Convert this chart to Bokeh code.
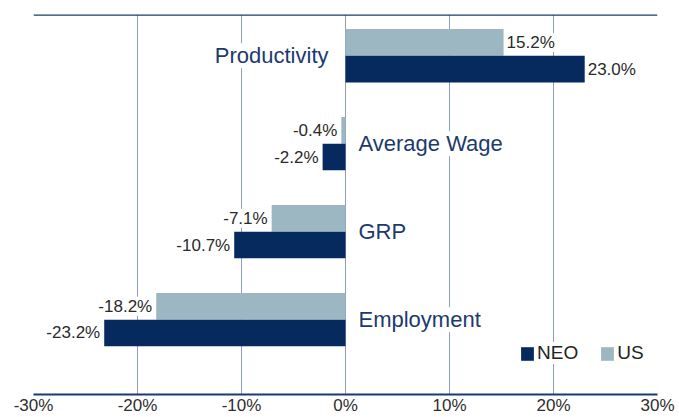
from bokeh.plotting import figure
from bokeh.models import Range1d, FixedTicker, ColumnDataSource, Legend, Span
from bokeh.core.properties import value
from bokeh.embed import file_html
from bokeh.resources import INLINE

# ---- data ----
categories = ["Productivity", "Average Wage", "GRP", "Employment"]
neo = [23.0, -2.2, -10.7, -23.2]
us = [15.2, -0.4, -7.1, -18.2]
x_ticks = [-30, -20, -10, 0, 10, 20, 30]
tick_labels = ["-30%", "-20%", "-10%", "0%", "10%", "20%", "30%"]
grid_ticks = [-20, -10, 0, 10, 20]

# ---- styling ----
NEO_COLOR = "#062a5e"
US_COLOR = "#9db7c2"
NAVY_TEXT = "#1d3a6e"
AXIS_COLOR = "#1c3a6e"
GRID_COLOR = "#8f9cc6"
FONT = "Liberation Sans"

n = len(categories)
ypos = [n - 1 - i for i in range(n)]
bar_h = 0.303
off = bar_h / 2
y_start, y_end = -0.851, 3.469

def fmt(v):
    return f"{v:.1f}%"

us_src = ColumnDataSource(dict(
    y=[y + off for y in ypos], val=us, label=[fmt(v) for v in us],
    align=["left" if v >= 0 else "right" for v in us],
    xoff=[3 if v >= 0 else -4 for v in us]))
neo_src = ColumnDataSource(dict(
    y=[y - off for y in ypos], val=neo, label=[fmt(v) for v in neo],
    align=["left" if v >= 0 else "right" for v in neo],
    xoff=[3 if v >= 0 else -4 for v in neo]))
cat_src = ColumnDataSource(dict(
    y=ypos, x=[0] * n, label=categories,
    align=["right" if v >= 0 else "left" for v in neo],
    xoff=[-17 if v >= 0 else 13 for v in neo]))

p = figure(width=679, height=417, output_backend="svg", toolbar_location=None,
           x_range=Range1d(-30, 30), y_range=Range1d(y_start, y_end),
           y_axis_location=None, min_border_left=33, min_border_right=22,
           min_border_top=14, min_border_bottom=0)
p.outline_line_color = None
p.background_fill_color = "white"

# grid
p.ygrid.visible = False
p.xgrid.ticker = FixedTicker(ticks=grid_ticks)
p.xgrid.grid_line_color = GRID_COLOR
p.xgrid.grid_line_width = 1

# bottom axis
ax = p.xaxis[0]
ax.ticker = FixedTicker(ticks=x_ticks)
ax.major_label_overrides = dict(zip(x_ticks, tick_labels))
ax.major_tick_line_color = None
ax.minor_tick_line_color = None
ax.major_tick_out = 0
ax.major_tick_in = 0
ax.axis_line_color = AXIS_COLOR
ax.axis_line_width = 2
ax.major_label_standoff = 1
ax.axis_label_standoff = 0
ax.major_label_text_font = FONT
ax.major_label_text_font_size = "17px"
ax.major_label_text_color = "#2e2e2e"

# top rule
p.add_layout(Span(location=y_end, dimension="width", line_color=AXIS_COLOR,
                  line_width=2.5))

# bars
r_us = p.hbar(y="y", left=0, right="val", height=bar_h, source=us_src,
              fill_color=US_COLOR, line_color=None)
r_neo = p.hbar(y="y", left=0, right="val", height=bar_h, source=neo_src,
               fill_color=NEO_COLOR, line_color=None)

# value labels
for src in (us_src, neo_src):
    p.text(x="val", y="y", text="label", source=src, text_align="align",
           x_offset="xoff", text_baseline="middle", text_font=value(FONT),
           text_font_size="17px", text_color="#2a2a2a",
           background_fill_color="white")

# category labels
p.text(x="x", y="y", text="label", source=cat_src, text_align="align",
       x_offset="xoff", text_baseline="middle", text_font=value(FONT),
       text_font_size="22px", text_color=NAVY_TEXT,
       background_fill_color="white")

legend = Legend(items=[("NEO", [r_neo]), ("US", [r_us])], orientation="horizontal",
                location=(486, 30), glyph_width=16, glyph_height=17,
                label_standoff=2, spacing=21, padding=0, margin=0,
                border_line_color=None, background_fill_color="white",
                background_fill_alpha=1, label_text_font=FONT,
                label_text_font_size="19px", label_text_color="#222222",
                label_height=17)
p.add_layout(legend)

open("out.html", "w").write(file_html(p, INLINE))
